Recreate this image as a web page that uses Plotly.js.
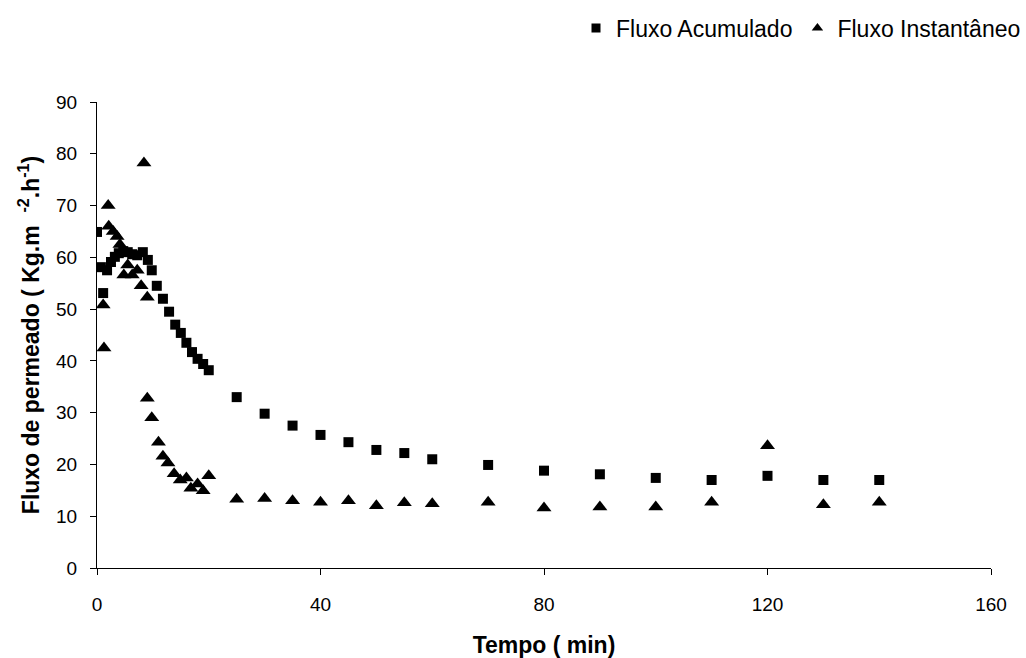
<!DOCTYPE html>
<html>
<head>
<meta charset="utf-8">
<script src="https://cdn.plot.ly/plotly-3.0.1.min.js"></script>
<style>html,body{margin:0;padding:0;background:#fff;}#chart{width:1026px;height:658px;}</style>
</head>
<body>
<div id="chart"></div>
<script>
// Fluxo Acumulado (squares)
var acumTempo = [0, 0.7, 1.1, 1.8, 2.5, 3.2, 3.9, 4.7, 5.5, 6.3, 7.2, 8.2, 9.1, 9.8, 10.7, 11.8, 12.9, 14, 15, 16, 17, 18, 19, 20,
                 25, 30, 35, 40, 45, 50, 55, 60, 70, 80, 90, 100, 110, 120, 130, 140];
var acumFluxo = [64.9, 58.1, 53.1, 57.5, 59.1, 60.1, 60.8, 61.2, 61.0, 60.6, 60.4, 61.0, 59.5, 57.5, 54.5, 52.0, 49.5, 47.0, 45.4, 43.5, 41.7, 40.4, 39.4, 38.2,
                 33.0, 29.8, 27.5, 25.7, 24.3, 22.8, 22.2, 21.0, 19.9, 18.8, 18.1, 17.4, 17.0, 17.8, 17.0, 17.0];
// Fluxo Instantaneo (triangles)
var instTempo = [1.1, 1.25, 2.0, 2.1, 2.9, 3.6, 4.1, 4.8, 5.5, 6.3, 7.2, 7.9, 8.4, 9.0, 9.0, 9.8, 11, 11.8, 12.7, 13.8, 14.9, 16, 16.8, 18, 19, 20,
                 25, 30, 35, 40, 45, 50, 55, 60, 70, 80, 90, 100, 110, 120, 130, 140];
var instFluxo = [50.8, 42.5, 70.0, 66.0, 65.0, 64.0, 62.5, 56.6, 58.5, 56.6, 57.5, 54.5, 78.2, 52.3, 32.8, 29.0, 24.3, 21.6, 20.3, 18.2, 17.0, 17.4, 15.4, 16.2, 14.9, 17.8,
                 13.3, 13.4, 13.0, 12.7, 13.0, 12.0, 12.6, 12.4, 12.7, 11.6, 11.8, 11.8, 12.7, 23.6, 12.2, 12.7];
var serieNomes = ['Fluxo Acumulado', 'Fluxo Instantâneo'];
var xTicks = [0, 40, 80, 120, 160];
var yTicks = [0, 10, 20, 30, 40, 50, 60, 70, 80, 90];

var traces = [
  {x: acumTempo, y: acumFluxo, mode: 'markers', type: 'scatter', showlegend: false,
   marker: {symbol: 'square', size: 10, color: '#000'}},
  {x: instTempo, y: instFluxo, mode: 'markers', type: 'scatter', showlegend: false,
   marker: {symbol: 'triangle-up', size: 13, color: '#000'}},
  {x: [null], y: [null], mode: 'markers', type: 'scatter', name: serieNomes[0],
   marker: {symbol: 'square', size: 9, color: '#000'}},
  {x: [null], y: [null], mode: 'markers', type: 'scatter', name: serieNomes[1],
   marker: {symbol: 'triangle-up', size: 10, color: '#000'}}
];

var layout = {
  width: 1026, height: 658,
  margin: {l: 97, r: 35, t: 102, b: 90, autoexpand: false},
  paper_bgcolor: '#fff', plot_bgcolor: '#fff',
  font: {family: 'Liberation Sans, Arial, sans-serif', size: 19, color: '#000'},
  showlegend: true,
  legend: {orientation: 'h', xref: 'container', yref: 'container', x: 1.0, xanchor: 'right',
           y: 1 - 28 / 658, yanchor: 'middle',
           font: {size: 23, color: '#000'}, itemwidth: 30, tracegroupgap: 0, bgcolor: 'rgba(0,0,0,0)'},
  xaxis: {
    range: [0, 160], tickvals: xTicks, ticktext: xTicks.map(String),
    showgrid: false, zeroline: false, showline: true, linecolor: '#000', linewidth: 1,
    ticks: 'outside', ticklen: 6, tickcolor: '#000', ticklabelstandoff: 13,
    tickfont: {size: 19},
    title: {text: '<b>Tempo ( min)</b>', font: {size: 23}, standoff: 25}
  },
  yaxis: {
    range: [0, 90], tickvals: yTicks, ticktext: yTicks.map(String),
    showgrid: false, zeroline: false, showline: true, linecolor: '#000', linewidth: 1,
    ticks: 'outside', ticklen: 6, tickcolor: '#000', ticklabelstandoff: 9,
    tickfont: {size: 19},
    title: {text: '<b>Fluxo de permeado ( Kg.m  <sup>-2</sup>.h<sup>-1</sup>)</b>', font: {size: 23}, standoff: 10}
  }
};

Plotly.newPlot('chart', traces, layout, {displayModeBar: false, staticPlot: true});
</script>
</body>
</html>
